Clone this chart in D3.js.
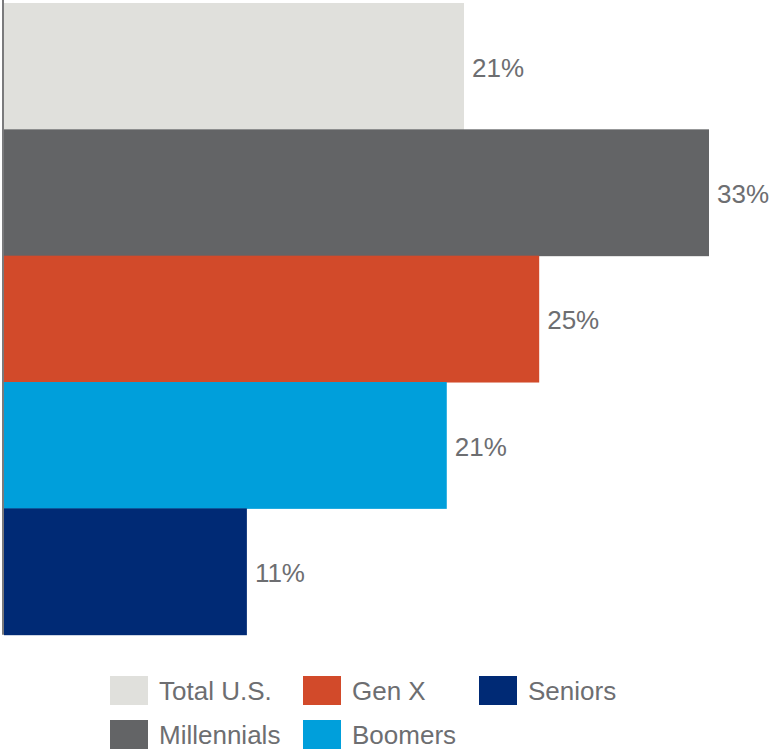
<!DOCTYPE html>
<html>
<head>
<meta charset="utf-8">
<script src="https://cdn.jsdelivr.net/npm/d3@7"></script>
<style>
  html, body { margin: 0; padding: 0; background: #ffffff; }
  svg { display: block; }
  text { font-family: "Liberation Sans", Arial, sans-serif; fill: #6d6e71; }
</style>
</head>
<body>
<div id="chart"></div>
<script>
// Share of each group (percent)
const categories = ["Total U.S.", "Millennials", "Gen X", "Boomers", "Seniors"];
const values = [21.4, 32.8, 24.9, 20.6, 11.3];
const colors = ["#e0e0dc", "#636466", "#d24a2a", "#009fdb", "#002a75"];

// Legend order: two rows, filled column by column
const legendOrder = ["Total U.S.", "Millennials", "Gen X", "Boomers", "Seniors"];

const W = 769, H = 750;
const svg = d3.select("#chart").append("svg")
  .attr("width", W).attr("height", H);

const data = categories.map((c, i) => ({ cat: c, value: values[i], color: colors[i] }));

const x = d3.scaleLinear().domain([0, 32.8]).range([4, 709]);
const y = d3.scaleBand().domain(categories).range([3, 634.7]).padding(0);

// Bars
svg.append("g").selectAll("rect")
  .data(data)
  .join("rect")
  .attr("x", x(0))
  .attr("y", d => y(d.cat))
  .attr("width", d => x(d.value) - x(0))
  .attr("height", y.bandwidth() + 0.5)
  .attr("fill", d => d.color);

// Value labels
const fmt = v => Math.round(v) + "%";
svg.append("g").selectAll("text")
  .data(data)
  .join("text")
  .attr("x", d => x(d.value) + 8)
  .attr("y", d => y(d.cat) + y.bandwidth() / 2)
  .attr("dy", "0.4em")
  .style("font-size", "26px")
  .text(d => fmt(d.value));

// Vertical category axis line (no ticks or labels)
const yAxis = d3.axisLeft(y).tickSize(0).tickFormat("");
const axisG = svg.append("g")
  .attr("transform", `translate(${x(0) - 1},0)`)
  .call(yAxis);
axisG.select(".domain")
  .attr("stroke", "#7a7a7c")
  .attr("stroke-width", 2)
  .attr("d", `M0,0V${634.7}`);

// Legend
const colX = [110, 303, 479];
const rowY = [676, 720];
const legend = svg.append("g");
legendOrder.forEach((name, i) => {
  const col = Math.floor(i / 2), row = i % 2;
  const idx = categories.indexOf(name);
  const g = legend.append("g")
    .attr("transform", `translate(${colX[col]},${rowY[row]})`);
  g.append("rect")
    .attr("width", 38).attr("height", 29)
    .attr("fill", colors[idx]);
  g.append("text")
    .attr("x", 49)
    .attr("y", 14.5)
    .attr("dy", "0.36em")
    .style("font-size", "26px")
    .text(name);
});
</script>
</body>
</html>
